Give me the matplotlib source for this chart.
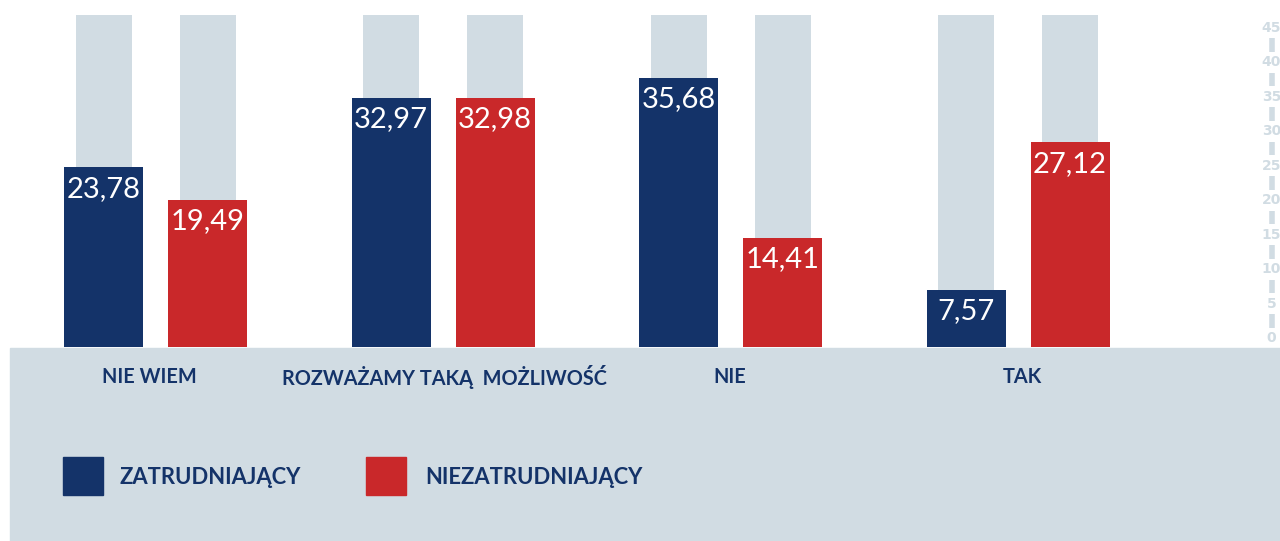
import matplotlib.pyplot as plt
from matplotlib.patches import Rectangle

categories = ["NIE WIEM", "ROZWAŻAMY TAKĄ  MOŻLIWOŚĆ", "NIE", "TAK"]
zatrudniajacy = [23.78, 32.97, 35.68, 7.57]
niezatrudniajacy = [19.49, 32.98, 14.41, 27.12]
series_names = ["ZATRUDNIAJĄCY", "NIEZATRUDNIAJĄCY"]
tick_values = list(range(0, 50, 5))
bg_value = 44

navy = "#143369"
red = "#c9282a"
grey = "#d1dce3"

W, H = 1280, 541
fig = plt.figure(figsize=(W / 100, H / 100), dpi=100)

# bottom panel
fig.patches.append(Rectangle((10 / W, 0), 1 - 10 / W, 1 - 348 / H,
                             transform=fig.transFigure, color=grey, zorder=0))

ax = fig.add_axes([0, 1 - 347 / H, 1271.5 / W, 347 / H])
ax.set_xlim(0, 1271.5)
ax.set_ylim(0, 347 / 7.55)
ax.axis("off")

group_x = [155.5 + i * 287.5 for i in range(len(categories))]
off = 52
for i, cx in enumerate(group_x):
    for dx, vals, col in [(-off, zatrudniajacy, navy), (off, niezatrudniajacy, red)]:
        x = cx + dx
        ax.bar(x, bg_value, width=56, color=grey, zorder=1)
        ax.bar(x, vals[i], width=79, color=col, zorder=2)
        ax.text(x, vals[i] - 1.1, f"{vals[i]:.2f}".replace(".", ","),
                color="white", ha="center", va="top", fontsize=21,
                family="Lato", zorder=3)

# right decorative axis (own scale, labels sit on the line)
ax2 = ax.twinx()
ax2.axis("off")
tr = ax2.get_yaxis_transform()
ax2.plot([1, 1], [0, 45], transform=tr, color=grey, lw=4,
         clip_on=False, solid_capstyle="butt", zorder=1)
for v in tick_values:
    ax2.text(1, v, str(v), transform=tr, ha="center", va="center",
             color=grey, fontsize=10, fontweight="bold", clip_on=False,
             bbox=dict(facecolor="white", edgecolor="none", pad=2.5), zorder=2)
ax2.set_ylim(-1.31, 49.06)

# category labels
for cx, name in zip([149, 444, 730, 1022], categories):
    fig.text(cx / W, 1 - 377 / H, name, ha="center", va="center",
             color=navy, fontsize=14.3, fontweight="bold", family="Lato")

# legend
for (x0, tx), name, col in zip([(63, 120), (366, 425)], series_names, [navy, red]):
    fig.patches.append(Rectangle((x0 / W, 1 - 495 / H), 40 / W, 38 / H,
                                 transform=fig.transFigure, color=col, zorder=1))
    fig.text(tx / W, 1 - 477 / H, name, ha="left", va="center",
             color=navy, fontsize=15.8, fontweight="bold", family="Lato")

fig.savefig("out.png", dpi=100)
